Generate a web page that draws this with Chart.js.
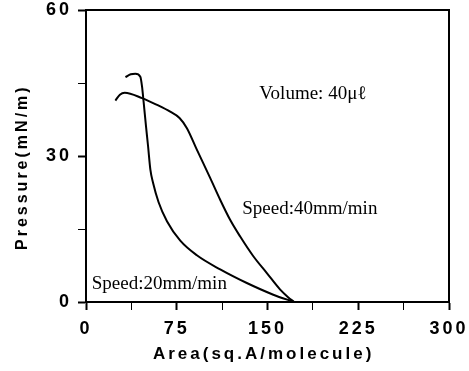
<!DOCTYPE html>
<html>
<head>
<meta charset="utf-8">
<script src="https://cdn.jsdelivr.net/npm/chart.js@4/dist/chart.umd.min.js"></script>
<style>
html,body{margin:0;padding:0;background:#fff;}
#wrap{width:469px;height:371px;}
</style>
</head>
<body>
<div id="wrap"><canvas id="c" width="469" height="371"></canvas></div>
<script>
// ---- data ----
const slowArea = [32.6, 37, 40.8, 44.9, 46.3, 47.7, 49.6, 51.3, 53.2, 55.4, 60.0, 66.9, 77.9, 91.6, 110.9, 132.9, 154.8, 172];
const slowPressure = [46.2, 46.8, 46.9, 46.3, 44.3, 40.9, 36.1, 32.0, 27.2, 24.5, 20.5, 16.6, 12.6, 9.6, 6.7, 3.9, 1.5, 0];
const fastArea = [24.3, 28, 32.0, 46.3, 58.7, 69.6, 77.3, 83.4, 91.6, 102.6, 110.9, 119.1, 127.3, 138.3, 149.3, 160.3, 167, 172];
const fastPressure = [41.4, 42.6, 43.0, 41.9, 40.5, 39.1, 37.8, 35.7, 31.3, 25.5, 21.0, 16.9, 13.5, 9.4, 6.0, 2.6, 1.0, 0];
const seriesNames = ['Speed:20mm/min', 'Speed:40mm/min'];
const xTickLabels = [0, 75, 150, 225, 300];
const yTickLabels = [0, 30, 60];
const xTitle = 'Area(sq.A/molecule)';
const yTitle = 'Pressure(mN/m)';
const noteTexts = ['Volume: 40μℓ', 'Speed:40mm/min', 'Speed:20mm/min'];
const noteX = [187.5, 185, 60.6];
const noteY = [42.8, 19.2, 3.7];

const toPts = (xs, ys) => xs.map((v, i) => ({x: v, y: ys[i]}));

const framePlugin = {
  id: 'frame',
  beforeDraw(chart) { chart.ctx.letterSpacing = '3px'; },
  afterDraw(chart) {
    const {ctx, chartArea: a, scales: {x, y}} = chart;
    ctx.save();
    ctx.letterSpacing = '0px';
    ctx.strokeStyle = '#000';
    ctx.lineWidth = 2;
    ctx.beginPath();
    ctx.moveTo(a.left, a.top);
    ctx.lineTo(a.right, a.top);
    ctx.lineTo(a.right, a.bottom);
    ctx.stroke();
    ctx.fillStyle = '#000';
    ctx.font = '19px "Liberation Serif"';
    ctx.textAlign = 'center';
    ctx.textBaseline = 'middle';
    noteTexts.forEach((t, i) => {
      ctx.fillText(t, x.getPixelForValue(noteX[i]), y.getPixelForValue(noteY[i]));
    });
    ctx.restore();
  }
};

new Chart(document.getElementById('c'), {
  type: 'scatter',
  data: {
    datasets: [
      {label: seriesNames[0], data: toPts(slowArea, slowPressure)},
      {label: seriesNames[1], data: toPts(fastArea, fastPressure)}
    ].map(d => Object.assign(d, {
      showLine: true, borderColor: '#000', borderWidth: 2, pointRadius: 0,
      cubicInterpolationMode: 'monotone', fill: false
    }))
  },
  options: {
    responsive: false,
    animation: false,
    devicePixelRatio: 1,
    layout: {padding: {top: 10, right: 20, bottom: 0, left: 0}},
    plugins: {legend: {display: false}, tooltip: {enabled: false}},
    scales: {
      x: {
        type: 'linear', min: 0, max: 300,
        afterFit(s) { s.height = 69; s.paddingLeft = 0; s.paddingRight = 0; },
        border: {display: true, color: '#000', width: 2},
        grid: {drawOnChartArea: false, tickLength: 8, tickColor: '#000',
               tickWidth: c => (xTickLabels.includes(c.tick.value) ? 2 : 1)},
        ticks: {
          stepSize: 37.5, color: '#000', padding: 8, maxRotation: 0,
          font: {family: '"Liberation Sans", Arial', size: 18, weight: 'bold'},
          callback: v => (xTickLabels.includes(v) ? String(v) : '')
        },
        title: {display: true, text: xTitle + ' ', color: '#000', padding: {top: 0, bottom: 6},
                font: {family: '"Liberation Sans", Arial', size: 17, weight: 'bold'}}
      },
      y: {
        type: 'linear', min: 0, max: 60,
        afterFit(s) { s.width = 86; s.paddingTop = 0; s.paddingBottom = 0; },
        border: {display: true, color: '#000', width: 2},
        grid: {drawOnChartArea: false, tickLength: 8, tickColor: '#000',
               tickWidth: c => (yTickLabels.includes(c.tick.value) ? 2 : 1)},
        ticks: {
          stepSize: 15, color: '#000', padding: 6,
          font: {family: '"Liberation Sans", Arial', size: 18, weight: 'bold', lineHeight: 1.0},
          callback: v => (yTickLabels.includes(v) ? String(v) : '')
        },
        title: {display: true, text: yTitle + '   ', color: '#000', padding: {top: 13, bottom: 0},
                font: {family: '"Liberation Sans", Arial', size: 16, weight: 'bold'}}
      }
    }
  },
  plugins: [framePlugin]
});
</script>
</body>
</html>
